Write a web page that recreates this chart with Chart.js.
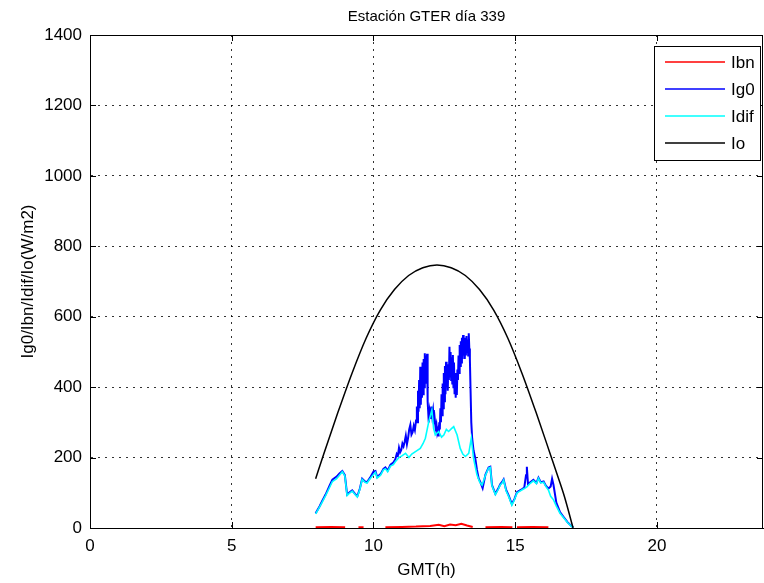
<!DOCTYPE html>
<html>
<head>
<meta charset="utf-8">
<title>Estación GTER día 339</title>
<script src="https://cdn.jsdelivr.net/npm/chart.js@4.4.1/dist/chart.umd.min.js"></script>
<style>
  html, body { margin: 0; padding: 0; background: #fff; }
  #wrap { width: 764px; height: 583px; position: relative; }
</style>
</head>
<body>
<div id="wrap"><canvas id="radChart"></canvas></div>
<script>
// Axis ticks
const xTickValues = [0, 5, 10, 15, 20];
const yTickValues = [0, 200, 400, 600, 800, 1000, 1200, 1400];

// Ibn (direct normal) - near zero, null = gap
const ibnHours = [7.96, 8.5, 9.0, 9.05, 9.47, 9.65, 9.66, 10.42, 11.0, 11.5, 12.0, 12.3, 12.5, 12.7, 12.9, 13.1, 13.3, 13.5, 13.55, 13.95, 14.5, 14.9, 14.95, 15.06, 15.6, 16.17];
const ibnValues = [2, 3, 2, null, 2, 2, null, 2, 3, 4, 6, 9, 5, 10, 8, 12, 7, 3, null, 2, 3, 2, null, 2, 3, 2];

// Ig0 (global)
const ig0Hours = [
  7.96, 8.1, 8.2, 8.31, 8.45, 8.55, 8.7, 8.8, 8.9, 8.99,
  9.07, 9.17, 9.25, 9.35, 9.43, 9.52, 9.6, 9.7, 9.77, 9.88,
  10.0, 10.07, 10.13, 10.25, 10.35, 10.42, 10.5, 10.6, 10.7, 10.77,
  10.82, 10.86, 10.9, 10.94, 10.98, 11.02, 11.06, 11.1, 11.14, 11.18,
  11.22, 11.26, 11.3, 11.34, 11.38, 11.42, 11.46, 11.5, 11.53, 11.55,
  11.57, 11.59, 11.61, 11.63, 11.65, 11.67, 11.69, 11.71, 11.73, 11.75,
  11.77, 11.79, 11.81, 11.83, 11.85, 11.87, 11.89, 11.91, 11.93, 11.95,
  11.98, 12.01, 12.04, 12.07, 12.1, 12.13, 12.16, 12.19, 12.22, 12.25,
  12.28, 12.3, 12.32, 12.34, 12.36, 12.38, 12.4, 12.42, 12.44, 12.46,
  12.48, 12.5, 12.52, 12.54, 12.56, 12.58, 12.6, 12.62, 12.64, 12.66,
  12.68, 12.7, 12.72, 12.74, 12.76, 12.78, 12.8, 12.82, 12.84, 12.86,
  12.88, 12.9, 12.92, 12.94, 12.96, 12.98, 13.0, 13.02, 13.04, 13.06,
  13.08, 13.1, 13.12, 13.14, 13.16, 13.18, 13.2, 13.22, 13.24, 13.26,
  13.28, 13.3, 13.32, 13.34, 13.36, 13.38, 13.4, 13.42, 13.45, 13.48,
  13.53, 13.59, 13.65, 13.71, 13.77, 13.85, 13.95, 14.06, 14.12, 14.18,
  14.3, 14.4, 14.47, 14.53, 14.59, 14.68, 14.77, 14.88, 14.97, 15.06,
  15.15, 15.23, 15.32, 15.38, 15.41, 15.45, 15.53, 15.64, 15.75, 15.82,
  15.9, 16.0, 16.08, 16.17, 16.25, 16.3, 16.35, 16.45, 16.58, 16.7,
  16.85, 16.99, 17.05];
const ig0Values = [
  42, 62, 78, 95, 120, 137, 146, 155, 162, 150,
  95, 102, 107, 97, 90, 112, 140, 132, 130, 143,
  160, 162, 145, 153, 168, 172, 163, 180, 186, 195,
  210, 205, 228, 215, 222, 240, 232, 245, 262, 238,
  255, 280, 293, 265, 272, 290, 278, 305, 345, 300,
  390, 330, 420, 340, 458, 350, 440, 370, 470, 380,
  480, 400, 496, 420, 490, 410, 495, 360, 330, 300,
  330, 310, 345, 320, 335, 295, 310, 285, 295, 270,
  280, 260, 300, 280, 340, 300, 380, 320, 410, 340,
  440, 360, 460, 380, 472, 400, 450, 390, 465, 420,
  515, 430, 500, 420, 485, 410, 491, 400, 470, 380,
  440, 370, 430, 378, 450, 420, 490, 440, 520, 460,
  530, 470, 540, 480, 548, 490, 540, 480, 530, 490,
  545, 500, 535, 490, 553, 510, 480, 406, 300, 255,
  220, 198, 165, 141, 130, 113, 152, 172, 174, 122,
  97, 112, 124, 130, 138, 108, 92, 68, 82, 102,
  106, 110, 115, 150, 174, 125, 130, 137, 128, 143,
  130, 132, 120, 112, 118, 140, 122, 72, 45, 32,
  16, 5, 2];

// Idif (diffuse)
const idifHours = [
  7.96, 8.1, 8.2, 8.31, 8.45, 8.55, 8.7, 8.8, 8.9, 8.99,
  9.07, 9.17, 9.25, 9.35, 9.43, 9.52, 9.6, 9.7, 9.77, 9.88,
  10.0, 10.07, 10.13, 10.25, 10.35, 10.42, 10.5, 10.6, 10.7, 10.77,
  10.9, 11.0, 11.13, 11.25, 11.35, 11.48, 11.65, 11.75, 11.83, 11.95,
  12.06, 12.12, 12.18, 12.3, 12.4, 12.48, 12.57, 12.65, 12.75, 12.83,
  12.95, 13.06, 13.15, 13.24, 13.36, 13.45, 13.53, 13.65, 13.75, 13.83,
  13.95, 14.06, 14.12, 14.18, 14.3, 14.4, 14.47, 14.53, 14.59, 14.68,
  14.77, 14.88, 14.97, 15.06, 15.15, 15.23, 15.32, 15.41, 15.53, 15.64,
  15.75, 15.82, 15.9, 16.0, 16.08, 16.17, 16.25, 16.35, 16.45, 16.58,
  16.7, 16.85, 16.99, 17.05];
const idifValues = [
  40, 60, 75, 92, 115, 132, 140, 150, 160, 148,
  92, 100, 105, 95, 88, 110, 138, 130, 128, 140,
  152, 158, 142, 150, 165, 168, 160, 176, 180, 188,
  200, 205, 212, 200, 210, 217, 226, 240, 255, 302,
  335, 283, 264, 274, 258, 264, 280, 274, 282, 288,
  264, 226, 210, 203, 212, 255, 198, 151, 130, 122,
  150, 170, 172, 120, 95, 110, 122, 127, 136, 105,
  89, 65, 80, 99, 104, 108, 112, 117, 127, 134,
  126, 141, 128, 130, 118, 108, 90, 80, 62, 42,
  30, 15, 4, 2];

// Io (extraterrestrial)
const ioHours = [7.96, 8.24, 8.74, 9.24, 9.74, 10.24, 10.74, 11.24, 11.74, 12.24, 12.74, 13.24, 13.74, 14.24, 14.74, 15.24, 15.74, 16.24, 16.53, 16.74, 17.04];
const ioValues = [140, 209, 327, 439, 539, 619, 677, 717, 739, 747, 739, 717, 677, 619, 539, 439, 327, 209, 140, 88, 0];

const toPoints = (xs, ys) => xs.map((x, i) => ({ x: x, y: ys[i] }));

const FONT = 'Liberation Sans, Arial, Helvetica, sans-serif';

// MATLAB style box, inward ticks and legend inside the axes
const matlabFrame = {
    id: 'matlabFrame',
    afterDraw(chart) {
        const ctx = chart.ctx;
        const a = chart.chartArea;
        const xs = chart.scales.x;
        const ys = chart.scales.y;
        ctx.save();
        ctx.strokeStyle = '#000';
        ctx.lineWidth = 1;
        ctx.strokeRect(Math.round(a.left) + 0.5, Math.round(a.top) + 0.5, Math.round(a.right - a.left) - 1, Math.round(a.bottom - a.top));
        ctx.beginPath();
        xTickValues.forEach(v => {
            const px = Math.round(xs.getPixelForValue(v)) + 0.5;
            ctx.moveTo(px, a.bottom); ctx.lineTo(px, a.bottom - 6);
            ctx.moveTo(px, a.top); ctx.lineTo(px, a.top + 6);
        });
        yTickValues.forEach(v => {
            const py = Math.round(ys.getPixelForValue(v)) + 0.5;
            ctx.moveTo(a.left, py); ctx.lineTo(a.left + 6, py);
            ctx.moveTo(a.right, py); ctx.lineTo(a.right - 6, py);
        });
        ctx.stroke();

        // legend box
        const bx = 654.5, by = 46.5, bw = 106, bh = 114;
        ctx.fillStyle = '#fff';
        ctx.fillRect(bx, by, bw, bh);
        ctx.strokeRect(bx, by, bw, bh);
        ctx.font = '17px ' + FONT;
        ctx.textBaseline = 'middle';
        ctx.textAlign = 'left';
        chart.data.datasets.forEach((ds, i) => {
            const y = 62 + i * 27;
            ctx.strokeStyle = ds.borderColor;
            ctx.lineWidth = 1.6;
            ctx.beginPath();
            ctx.moveTo(665, y); ctx.lineTo(725, y);
            ctx.stroke();
            ctx.fillStyle = '#000';
            ctx.fillText(ds.label, 731, y + 1);
        });
        ctx.restore();
    }
};

const ctx = document.getElementById('radChart').getContext('2d');
const radChart = new Chart(ctx, {
    type: 'line',
    data: {
        datasets: [
            { label: 'Ibn', data: toPoints(ibnHours, ibnValues), borderColor: '#ff0000', borderWidth: 2, pointRadius: 0, spanGaps: false, order: 3 },
            { label: 'Ig0', data: toPoints(ig0Hours, ig0Values), borderColor: '#0000ff', borderWidth: 2, pointRadius: 0, order: 2 },
            { label: 'Idif', data: toPoints(idifHours, idifValues), borderColor: '#00ffff', borderWidth: 1.6, pointRadius: 0, order: 1 },
            { label: 'Io', data: toPoints(ioHours, ioValues), borderColor: '#000000', borderWidth: 1.5, pointRadius: 0, cubicInterpolationMode: 'monotone', order: 0 }
        ]
    },
    options: {
        responsive: true,
        maintainAspectRatio: false,
        animation: false,
        layout: { padding: { left: 0, right: 1, top: 0, bottom: 0 } },
        plugins: {
            legend: { display: false },
            tooltip: { enabled: false },
            title: {
                display: true,
                fullSize: false,
                text: 'Estación GTER día 339',
                color: '#000',
                font: { family: FONT, size: 15, weight: 'normal' },
                padding: { top: 8, bottom: 9 }
            }
        },
        scales: {
            x: {
                type: 'linear',
                min: 0,
                max: 23.74,
                afterBuildTicks: s => { s.ticks = xTickValues.map(v => ({ value: v })); },
                afterFit: s => { s.height = 55; },
                ticks: { color: '#000', font: { family: FONT, size: 17 }, padding: 8, maxRotation: 0, callback: v => String(v) },
                grid: { color: 'rgba(0,0,0,0.8)', lineWidth: 1, drawTicks: false },
                border: { display: true, color: '#000', width: 1, dash: [2, 5] },
                title: { display: true, text: 'GMT(h)', color: '#000', font: { family: FONT, size: 17 }, padding: { top: 0, bottom: 2 } }
            },
            y: {
                min: 0,
                max: 1400,
                afterBuildTicks: s => { s.ticks = yTickValues.map(v => ({ value: v })); },
                afterFit: s => { s.width = 90; },
                ticks: { color: '#000', font: { family: FONT, size: 17 }, padding: 8, callback: v => String(v) },
                grid: { color: 'rgba(0,0,0,0.8)', lineWidth: 1, drawTicks: false },
                border: { display: true, color: '#000', width: 1, dash: [2, 5] },
                title: { display: true, text: 'Ig0/Ibn/Idif/Io(W/m2)', color: '#000', font: { family: FONT, size: 17 }, padding: { top: 18, bottom: 0 } }
            }
        }
    },
    plugins: [matlabFrame]
});
</script>
</body>
</html>
